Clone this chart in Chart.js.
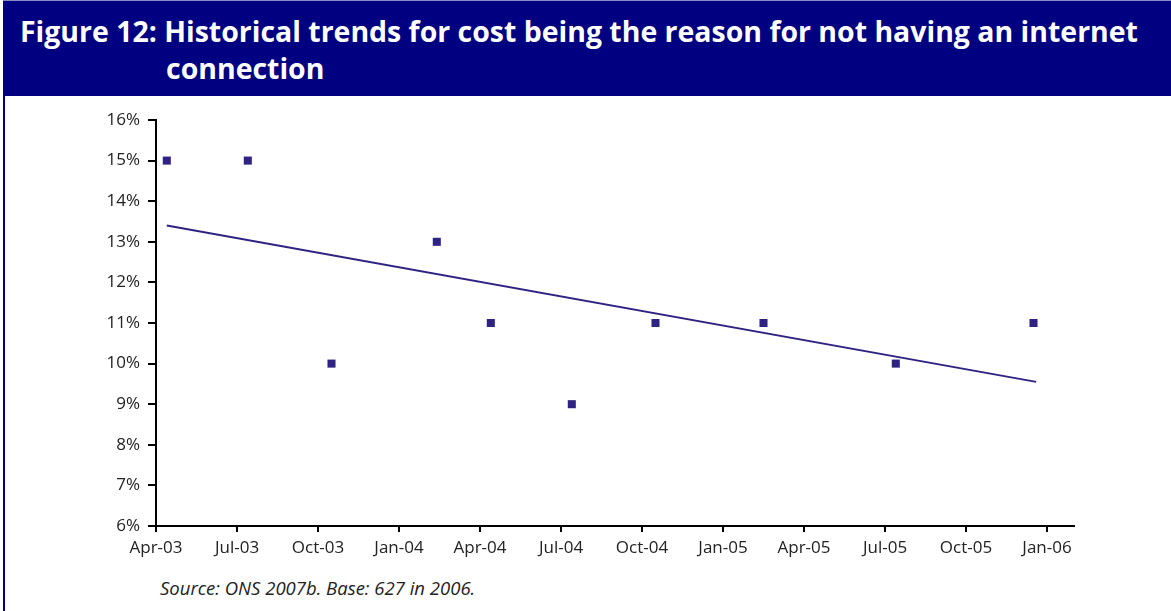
<!DOCTYPE html>
<html>
<head>
<meta charset="utf-8">
<script src="https://cdn.jsdelivr.net/npm/chart.js@4"></script>
<style>
    html, body { margin: 0; padding: 0; background: #fff; }
    body { width: 1171px; height: 611px; position: relative; overflow: hidden; font-family: 'Open Sans', sans-serif; }
    .frame { position: absolute; left: 3px; top: 0; width: 1168px; height: 611px; border-left: 2px solid #000080; box-sizing: border-box; }
    .header { position: absolute; left: 3px; top: 0; width: 1168px; height: 96px; background: #000080; border-top: 1px solid #8c8cc8; box-sizing: border-box; }
    .title { position: absolute; left: 0; top: 12px; width: 1168px; color: #fff; font-weight: 700; font-size: 27px; line-height: 37px; padding-left: 163px; text-indent: -146px; box-sizing: border-box; white-space: nowrap; }
    .chart-box { position: absolute; left: 0; top: 96px; width: 1171px; height: 470px; }
    .source { position: absolute; left: 160px; top: 575px; font-style: italic; font-size: 18.5px; color: #222; }
</style>
</head>
<body>
<div class="frame"></div>
<div class="header">
    <div class="title" id="title"><span id="line1">Figure 12: Historical trends for cost being the reason for not having an internet</span><br>connection</div>
</div>
<div class="chart-box"><canvas id="trendChart" width="1171" height="470"></canvas></div>
<div class="source">Source: ONS 2007b. Base: 627 in 2006.</div>

<script>
// months after Apr-03 for each survey point
const surveyMonths = [0.4, 3.4, 6.5, 10.4, 12.4, 15.4, 18.5, 22.5, 27.4, 32.5];
const costShare = [15, 15, 10, 13, 11, 9, 11, 11, 10, 11];
// linear trend line end points
const trendMonths = [0.4, 32.6];
const trendValues = [13.4, 9.55];
const xTickLabels = ['Apr-03', 'Jul-03', 'Oct-03', 'Jan-04', 'Apr-04', 'Jul-04', 'Oct-04', 'Jan-05', 'Apr-05', 'Jul-05', 'Oct-05', 'Jan-06'];
const yTicks = [6, 7, 8, 9, 10, 11, 12, 13, 14, 15, 16];

document.addEventListener('DOMContentLoaded', function () {
    // fit the first title line to the original width
    const line1 = document.getElementById('line1');
    const title = document.getElementById('title');
    const target = 1118;
    const w = line1.getBoundingClientRect().width;
    if (w > 0) {
        const size = 27 * target / w;
        title.style.fontSize = size.toFixed(2) + 'px';
    }

    const markColor = '#2e2382';
    const ctx = document.getElementById('trendChart');

    new Chart(ctx, {
        type: 'scatter',
        data: {
            datasets: [{
                label: 'Cost',
                data: surveyMonths.map((m, i) => ({ x: m, y: costShare[i] })),
                pointStyle: 'rect',
                pointRadius: 5.7,
                backgroundColor: markColor,
                borderColor: markColor,
                borderWidth: 0
            }, {
                label: 'Trend',
                data: trendMonths.map((m, i) => ({ x: m, y: trendValues[i] })),
                showLine: true,
                pointRadius: 0,
                borderColor: markColor,
                borderWidth: 2,
                fill: false
            }]
        },
        options: {
            responsive: false,
            animation: false,
            layout: { padding: { left: 0, right: 97, top: 24, bottom: 0 } },
            plugins: {
                legend: { display: false },
                tooltip: { enabled: false }
            },
            scales: {
                x: {
                    type: 'linear',
                    min: 0,
                    max: 34,
                    afterBuildTicks: function (scale) {
                        scale.ticks = xTickLabels.map((_, i) => ({ value: i * 3 }));
                    },
                    afterFit: function (scale) { scale.height = 40; },
                    ticks: {
                        autoSkip: false,
                        maxRotation: 0,
                        padding: 6,
                        color: '#222',
                        font: { family: "'Open Sans', sans-serif", size: 17 },
                        callback: function (value) { return xTickLabels[Math.round(value / 3)]; }
                    },
                    grid: { drawOnChartArea: false, drawTicks: true, tickLength: 6, color: '#000', lineWidth: 2 },
                    border: { display: true, color: '#000', width: 2 }
                },
                y: {
                    min: 6,
                    max: 16,
                    afterBuildTicks: function (scale) {
                        scale.ticks = yTicks.map(v => ({ value: v }));
                    },
                    afterFit: function (scale) { scale.width = 156; },
                    ticks: {
                        padding: 8,
                        color: '#222',
                        font: { family: "'Open Sans', sans-serif", size: 17 },
                        callback: function (value) { return value + '%'; }
                    },
                    grid: { drawOnChartArea: false, drawTicks: true, tickLength: 8, color: '#000', lineWidth: 2 },
                    border: { display: true, color: '#000', width: 2 }
                }
            }
        }
    });
});
</script>
</body>
</html>
